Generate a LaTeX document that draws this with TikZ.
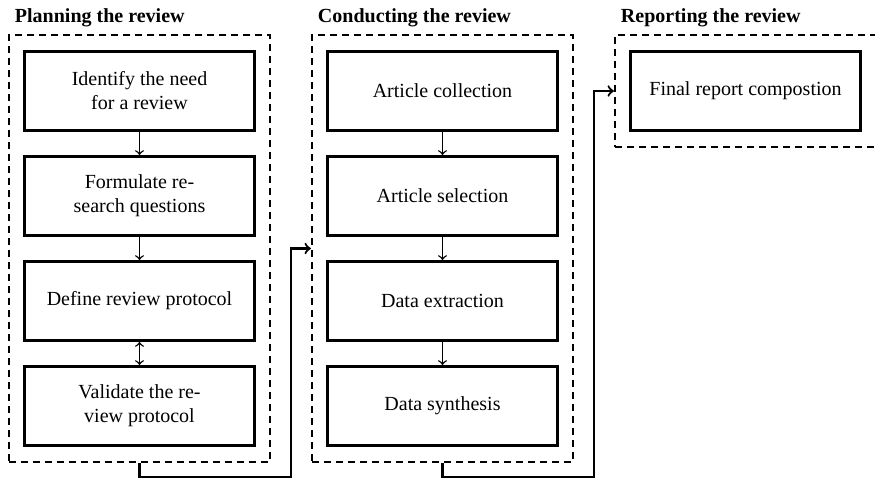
\documentclass[tikz,border=0pt]{standalone}
\usepackage{fontspec}
\setmainfont{Liberation Serif}
\usetikzlibrary{positioning,fit,calc}
\tikzset{
	review/.style={>=to,node distance=11.5pt and 35pt},
	task/.style={rectangle,draw,line width=1.3pt,minimum width=115.2pt,minimum height=39.7pt,
		align=center,inner sep=2pt},
	phase/.style={draw,line width=1.1pt,dash pattern=on 3.5pt off 2.5pt,
		inner xsep=7pt,inner ysep=7.5pt},
	phase title/.style={anchor=south west,font=\bfseries},
	next/.style={->,line width=0.7pt},
	flow/.style={->,line width=1.1pt}
}

\begin{document}
\begin{tikzpicture}[review]
\useasboundingbox (0,0) rectangle (437.5pt,-240pt);

% planning
\node[task, anchor=north west] (plan1) at (11.5pt,-25pt) {Identify the need\\for a review};
\node[task] (plan2) [below= of plan1] {Formulate re-\\search questions};
\node[task] (plan3) [below= of plan2] {Define review protocol};
\node[task] (plan4) [below= of plan3] {Validate the re-\\view protocol};

% conducting
\node[task] (cond1) [right= of plan1] {Article collection};
\node[task] (cond2) [below= of cond1] {Article selection};
\node[task] (cond3) [below= of cond2] {Data extraction};
\node[task] (cond4) [below= of cond3] {Data synthesis};

% reporting
\node[task] (rep1) [right= of cond1] {Final report compostion};

\node[phase, fit=(plan1)(plan4)] (plan) {};
\node[phase, fit=(cond1)(cond4)] (cond) {};
\node[phase, fit=(rep1)] (rep) {};

\node[phase title] at (plan.north west) {Planning the review};
\node[phase title] at (cond.north west) {Conducting the review};
\node[phase title] at (rep.north west) {Reporting the review};

\path[next] (plan1) edge (plan2);
\path[next] (plan2) edge (plan3);
\path[next,<->] (plan3) edge (plan4);
\path[next] (cond1) edge (cond2);
\path[next] (cond2) edge (cond3);
\path[next] (cond3) edge (cond4);

% between the phases
\coordinate (gap1) at ($(plan.east)!0.5!(cond.west)$);
\coordinate (gap2) at ($(cond.east)!0.5!(rep.west)$);
\draw[flow] (plan.south) -- ++(0,-7pt) -| (gap1) -- (cond.west);
\draw[flow] (cond.south) -- ++(0,-7pt) -| (gap2 |- rep.west) -- (rep.west);
\end{tikzpicture}
\end{document}
